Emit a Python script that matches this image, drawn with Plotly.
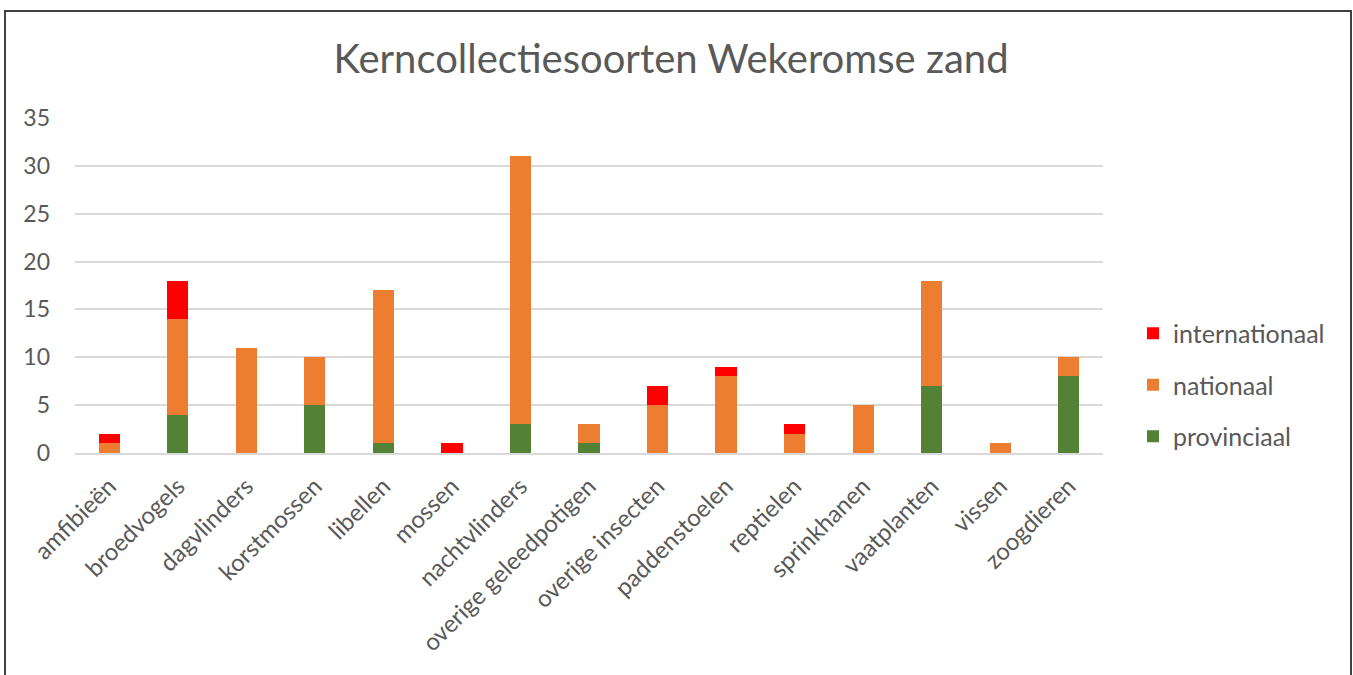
import plotly.graph_objects as go

categories = ["amfibieën", "broedvogels", "dagvlinders", "korstmossen", "libellen", "mossen",
              "nachtvlinders", "overige geleedpotigen", "overige insecten", "paddenstoelen",
              "reptielen", "sprinkhanen", "vaatplanten", "vissen", "zoogdieren"]
provinciaal = [0, 4, 0, 5, 1, 0, 3, 1, 0, 0, 0, 0, 7, 0, 8]
nationaal = [1, 10, 11, 5, 16, 0, 28, 2, 5, 8, 2, 5, 11, 1, 2]
internationaal = [1, 4, 0, 0, 0, 1, 0, 0, 2, 1, 1, 0, 0, 0, 0]
y_ticks = [0, 5, 10, 15, 20, 25, 30, 35]

FONT = "Lato"
GREY = "#595959"

fig = go.Figure()
for rank, (name, vals, col) in enumerate([("provinciaal", provinciaal, "#538135"),
                                          ("nationaal", nationaal, "#ED7D31"),
                                          ("internationaal", internationaal, "#FF0000")]):
    fig.add_trace(go.Bar(x=categories, y=vals, name=name, legendgroup=name, legendrank=1000 - rank,
                         marker=dict(color=col, line=dict(width=0))))

L, R, T, B = 75, 250, 118, 222
W, H = 1353, 675
pw, ph = W - L - R, H - T - B

fig.update_layout(
    width=W, height=H,
    barmode="stack", bargap=0.69,
    plot_bgcolor="white", paper_bgcolor="white",
    margin=dict(l=L, r=R, t=T, b=B),
    font=dict(family=FONT, color=GREY),
    title=dict(text="Kerncollectiesoorten Wekeromse zand", x=671 / W, xanchor="center",
               y=1 - 59 / H, yanchor="middle", font=dict(size=40, color=GREY, family=FONT)),
    legend=dict(traceorder="grouped", x=(1133 - L) / pw, xanchor="left", y=(453 - 385) / ph,
                yanchor="middle", font=dict(size=25, color=GREY), itemwidth=30,
                tracegroupgap=16, bgcolor="rgba(0,0,0,0)"),
    showlegend=True,
)
fig.update_yaxes(range=[0, 35], tickvals=y_ticks, showgrid=True, gridcolor="#D9D9D9", gridwidth=1.5,
                 zeroline=False, showline=False, tickfont=dict(size=23, color=GREY), ticks="",
                 ticklabelstandoff=24)
fig.update_xaxes(tickangle=-45, tickfont=dict(size=24, color=GREY), showline=True,
                 linecolor="#D9D9D9", linewidth=1.5, ticks="", ticklabelstandoff=8)

# outer chart border
fig.add_shape(type="rect", xref="paper", yref="paper",
              x0=(5 - L) / pw, x1=(1351 - L) / pw,
              y0=(H - B - 700) / ph, y1=(H - B - 11) / ph,
              line=dict(color="#404040", width=2), fillcolor="rgba(0,0,0,0)")

fig.write_html("out.html", config={"displayModeBar": False},
               post_script="document.body.style.margin='0px';")
